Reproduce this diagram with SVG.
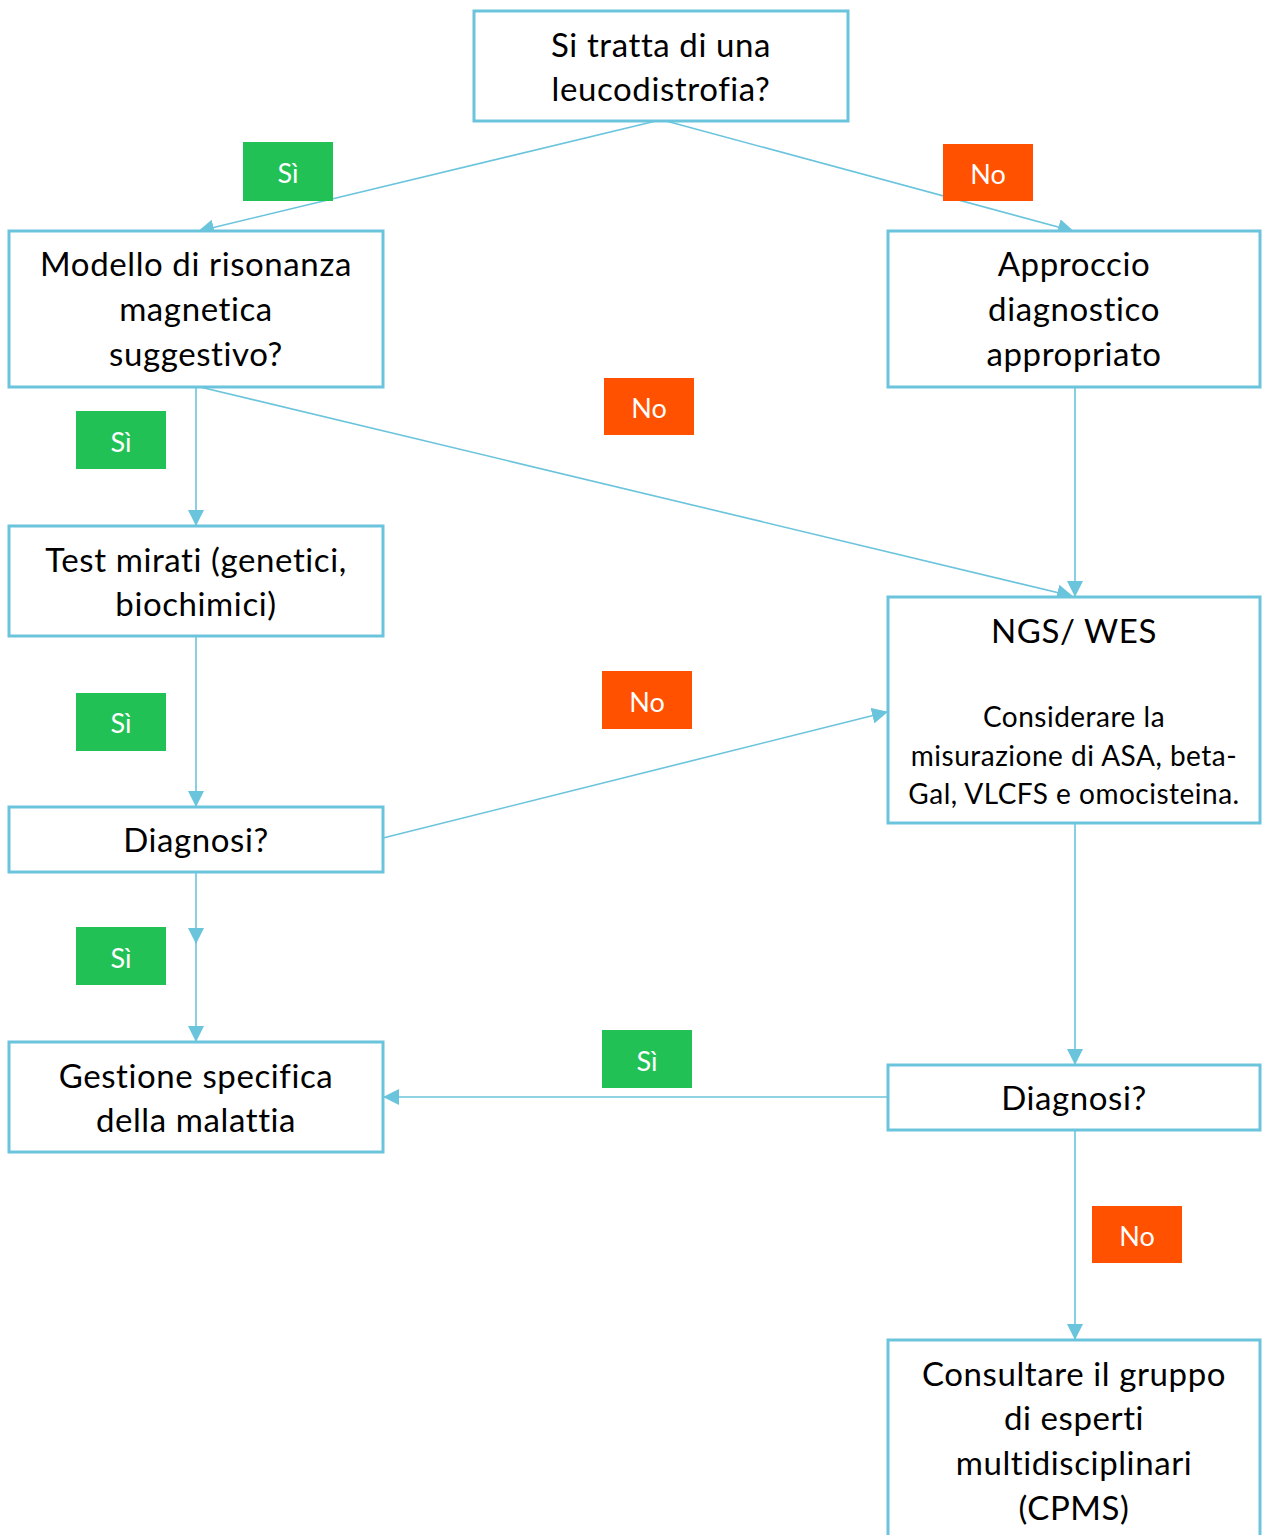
<svg xmlns="http://www.w3.org/2000/svg" width="1262" height="1535" viewBox="0 0 1262 1535">
<defs>
<style>
.box{fill:#fff;stroke:#6AC4DC;stroke-width:3}
.t{font-family:Lato,"Open Sans",sans-serif;font-size:33px;letter-spacing:0.6px;font-variant-ligatures:none;fill:#000;text-anchor:middle;dominant-baseline:central}
.s{font-size:28px;letter-spacing:0.5px}
.c{stroke:#6AC4DC;stroke-width:1.6;fill:none;marker-end:url(#ah)}
.g{fill:#22C155}
.o{fill:#FF5100}
.l{font-family:Lato,"Open Sans",sans-serif;font-size:27px;fill:#fff;text-anchor:middle;dominant-baseline:central}
</style>
<marker id="ah" markerUnits="userSpaceOnUse" markerWidth="16" markerHeight="16" refX="15" refY="8" orient="auto"><path d="M0,0 L16,8 L0,16 Z" fill="#6AC4DC"/></marker>
</defs>
<rect width="1262" height="1535" fill="#fff"/>
<g id="connectors">
<line class="c" x1="656" y1="121" x2="199" y2="231"/>
<line class="c" x1="666" y1="121" x2="1073" y2="231"/>
<line class="c" x1="196" y1="387" x2="196" y2="525"/>
<line class="c" x1="200" y1="387" x2="1072" y2="596"/>
<line class="c" x1="1075" y1="387" x2="1075" y2="596"/>
<line class="c" x1="196" y1="636" x2="196" y2="806"/>
<line class="c" x1="383" y1="838" x2="887" y2="712"/>
<line class="c" x1="196" y1="872" x2="196" y2="943"/>
<line class="c" x1="196" y1="935" x2="196" y2="1041"/>
<line class="c" x1="1075" y1="823" x2="1075" y2="1064"/>
<line class="c" x1="888" y1="1097" x2="384" y2="1097"/>
<line class="c" x1="1075" y1="1130" x2="1075" y2="1339"/>
</g>
<g id="n1"><rect class="box" x="474" y="11" width="374" height="110"/><text class="t" x="661" y="44">Si tratta di una</text><text class="t" x="661" y="88">leucodistrofia?</text></g>
<g id="n2"><rect class="box" x="9" y="231" width="374" height="156"/><text class="t" x="196" y="263">Modello di risonanza</text><text class="t" x="196" y="308">magnetica</text><text class="t" x="196" y="353">suggestivo?</text></g>
<g id="n3"><rect class="box" x="888" y="231" width="372" height="156"/><text class="t" x="1074" y="263">Approccio</text><text class="t" x="1074" y="308">diagnostico</text><text class="t" x="1074" y="353">appropriato</text></g>
<g id="n4"><rect class="box" x="9" y="526" width="374" height="110"/><text class="t" x="196" y="559">Test mirati (genetici,</text><text class="t" x="196" y="603">biochimici)</text></g>
<g id="n5"><rect class="box" x="888" y="597" width="372" height="226"/><text class="t" x="1074" y="630">NGS/ WES</text><text class="t s" x="1074" y="716">Considerare la</text><text class="t s" x="1074" y="755">misurazione di ASA, beta-</text><text class="t s" x="1074" y="793">Gal, VLCFS e omocisteina.</text></g>
<g id="n6"><rect class="box" x="9" y="807" width="374" height="65"/><text class="t" x="196" y="839">Diagnosi?</text></g>
<g id="n7"><rect class="box" x="9" y="1042" width="374" height="110"/><text class="t" x="196" y="1075">Gestione specifica</text><text class="t" x="196" y="1119">della malattia</text></g>
<g id="n8"><rect class="box" x="888" y="1065" width="372" height="65"/><text class="t" x="1074" y="1097">Diagnosi?</text></g>
<g id="n9"><rect class="box" x="888" y="1340" width="372" height="220"/><text class="t" x="1074" y="1373">Consultare il gruppo</text><text class="t" x="1074" y="1417">di esperti</text><text class="t" x="1074" y="1462">multidisciplinari</text><text class="t" x="1074" y="1507">(CPMS)</text></g>
<g id="labels">
<rect class="g" x="243" y="142" width="90" height="59"/><text class="l" x="288" y="172">Sì</text>
<rect class="o" x="943" y="144" width="90" height="57"/><text class="l" x="988" y="173">No</text>
<rect class="o" x="604" y="378" width="90" height="57"/><text class="l" x="649" y="407">No</text>
<rect class="g" x="76" y="411" width="90" height="58"/><text class="l" x="121" y="441">Sì</text>
<rect class="g" x="76" y="693" width="90" height="58"/><text class="l" x="121" y="722">Sì</text>
<rect class="o" x="602" y="671" width="90" height="58"/><text class="l" x="647" y="701">No</text>
<rect class="g" x="76" y="927" width="90" height="58"/><text class="l" x="121" y="957">Sì</text>
<rect class="g" x="602" y="1030" width="90" height="58"/><text class="l" x="647" y="1060">Sì</text>
<rect class="o" x="1092" y="1206" width="90" height="57"/><text class="l" x="1137" y="1235">No</text>
</g>
</svg>
